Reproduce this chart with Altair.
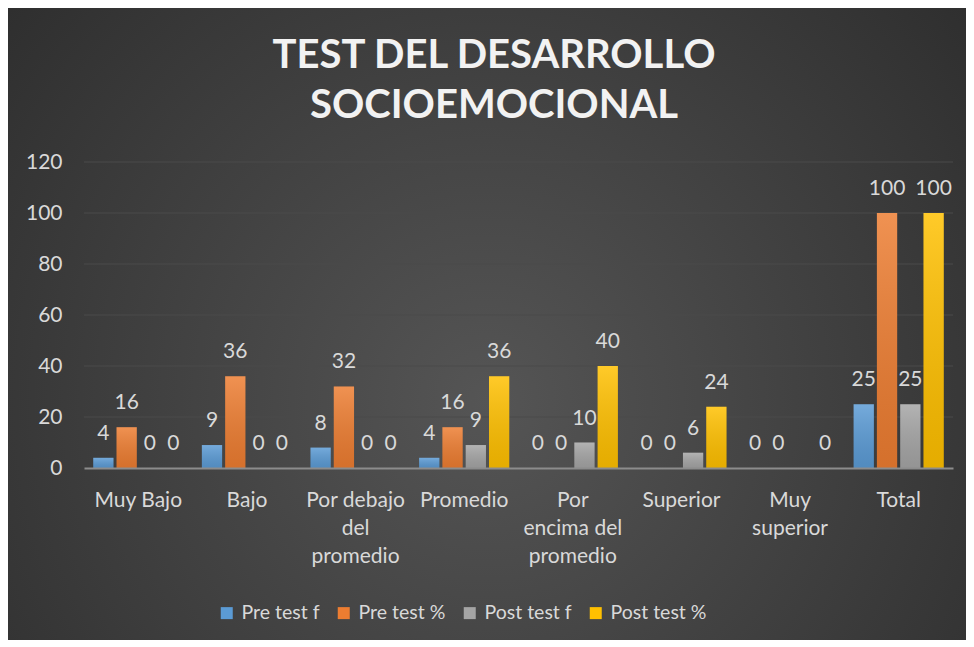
import altair as alt
import pandas as pd

categories = ["Muy Bajo", "Bajo", "Por debajo del promedio", "Promedio",
              "Por encima del promedio", "Superior", "Muy superior", "Total"]
series = ["Pre test f", "Pre test %", "Post test f", "Post test %"]
pre_f = [4, 9, 8, 4, 0, 0, 0, 25]
pre_pct = [16, 36, 32, 16, 0, 0, 0, 100]
post_f = [0, 0, 0, 9, 10, 6, None, 25]
post_pct = [0, 0, 0, 36, 40, 24, 0, 100]
colors = ["#5B9BD5", "#ED7D31", "#A5A5A5", "#FFC000"]
y_ticks = [0, 20, 40, 60, 80, 100, 120]
grid_ticks = [20, 40, 60, 80, 100, 120]
label_lines = {
    "Por debajo del promedio": ["Por debajo", "del", "promedio"],
    "Por encima del promedio": ["Por", "encima del", "promedio"],
    "Muy superior": ["Muy", "superior"],
}
title_lines = ["TEST DEL DESARROLLO", "SOCIOEMOCIONAL"]

rows = []
for s, vals in zip(series, [pre_f, pre_pct, post_f, post_pct]):
    for c, v in zip(categories, vals):
        rows.append({"category": c, "series": s, "value": v})
df = pd.DataFrame(rows)

expr = "datum.label"
for k, lines in reversed(list(label_lines.items())):
    arr = "[" + ",".join("'%s'" % l for l in lines) + "]"
    expr = "datum.label == '%s' ? %s : (%s)" % (k, arr, expr)

W, H = 869, 306
PAD = {"left": 76, "top": 154, "right": 13, "bottom": 172}
FONT = "Lato"
TXT = "#d9d9d9"

x_enc = alt.X("category:N", sort=categories,
              scale=alt.Scale(paddingInner=0.17, paddingOuter=0.085),
              axis=alt.Axis(title=None, labelExpr=expr, labelAngle=0, labelFont=FONT,
                            labelFontSize=21, labelColor=TXT, labelPadding=21,
                            labelLineHeight=28, ticks=False, domainColor="#8c8c8c",
                            domainWidth=2, grid=False, zindex=1))
y_enc = alt.Y("value:Q", scale=alt.Scale(domain=[0, 120], nice=False),
              axis=alt.Axis(title=None, values=y_ticks, grid=False, domain=False,
                            ticks=False, labelPadding=22, labelFontSize=21,
                            labelColor=TXT, labelFont=FONT, zindex=1))
xo_enc = alt.XOffset("series:N", sort=series, scale=alt.Scale(domain=series, paddingInner=0.13))

bg = alt.Chart(pd.DataFrame({"a": [0]})).mark_rect(
    fill={"gradient": "radial",
          "stops": [{"offset": 0, "color": "#555555"}, {"offset": 1, "color": "#272727"}],
          "x1": 0.5, "y1": 0.58, "r1": 0, "x2": 0.5, "y2": 0.58, "r2": 0.78}
).encode(x=alt.value(-PAD["left"]), x2=alt.value(W + PAD["right"]),
         y=alt.value(-PAD["top"]), y2=alt.value(H + PAD["bottom"]))

title = alt.Chart(pd.DataFrame({"t": ["\n".join(title_lines)]})).mark_text(
    lineBreak="\n", lineHeight=50, font=FONT, fontSize=40, fontWeight="bold",
    color="#f2f2f2", align="center", baseline="middle"
).encode(text="t:N", x=alt.value(410), y=alt.value(-106))

grid = alt.Chart(pd.DataFrame({"value": grid_ticks})).mark_rule(
    color="#4a4a4a", strokeWidth=1).encode(y=y_enc)

bars = alt.Chart(df).mark_bar().encode(
    x=x_enc, y=y_enc, xOffset=xo_enc,
    color=alt.Color("series:N", sort=series,
                    scale=alt.Scale(domain=series, range=colors),
                    legend=alt.Legend(orient="none", legendX=133, legendY=441,
                                      direction="horizontal", title=None,
                                      symbolType="square", symbolSize=144,
                                      symbolStrokeWidth=0, labelFont=FONT,
                                      labelFontSize=19.5, labelColor=TXT,
                                      columnPadding=14, labelOffset=5)))

shade = alt.Chart(df).mark_bar(
    fill={"gradient": "linear",
          "stops": [{"offset": 0, "color": "rgba(255,255,255,0.16)"},
                    {"offset": 1, "color": "rgba(0,0,0,0.10)"}],
          "x1": 0, "y1": 0, "x2": 0, "y2": 1}
).encode(x=x_enc, y=y_enc, xOffset=xo_enc)

labels = alt.Chart(df).transform_filter("datum.value != null").mark_text(
    baseline="alphabetic", dy=-18, font=FONT, fontSize=21, color=TXT
).encode(x=x_enc, y=y_enc, xOffset=xo_enc, text=alt.Text("value:Q"))

chart = alt.layer(bg, title, grid, bars, shade, labels).properties(
    width=W, height=H,
    padding=PAD,
    autosize=alt.AutoSizeParams(type="none"),
    background="#2c2c2c",
).configure_view(stroke=None)

chart.save("out.html", embed_options={"renderer": "svg", "actions": False})
